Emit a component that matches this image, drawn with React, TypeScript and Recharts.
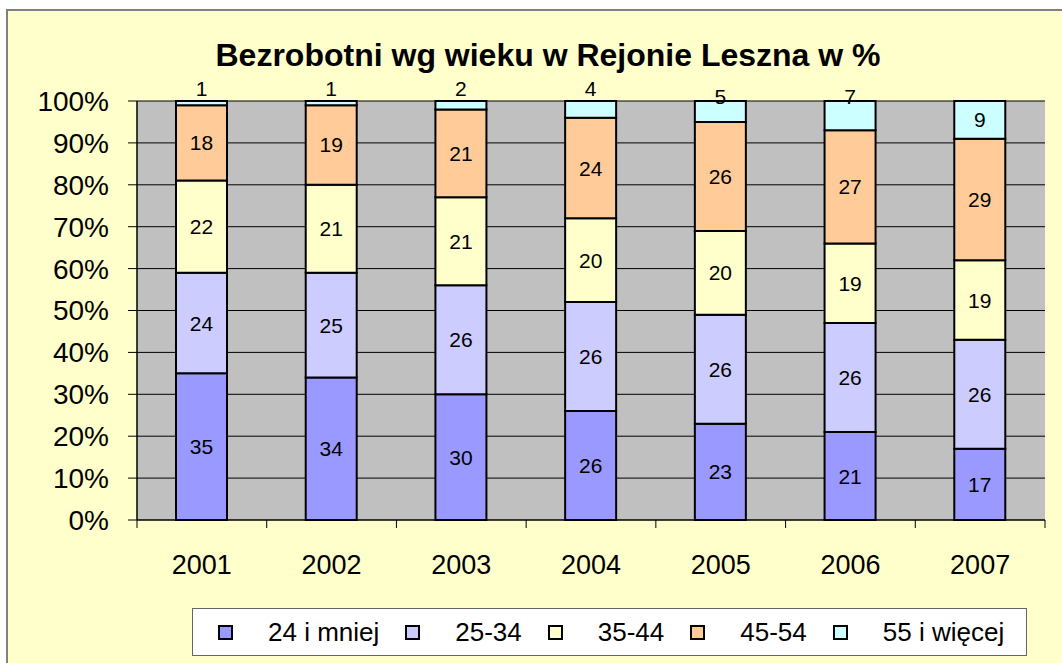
import { BarChart, Bar, XAxis, YAxis, CartesianGrid, Legend, LabelList } from 'recharts'

const years = ['2001', '2002', '2003', '2004', '2005', '2006', '2007']
const age24 = [35, 34, 30, 26, 23, 21, 17]
const age25to34 = [24, 25, 26, 26, 26, 26, 26]
const age35to44 = [22, 21, 21, 20, 20, 19, 19]
const age45to54 = [18, 19, 21, 24, 26, 27, 29]
const age55 = [1, 1, 2, 4, 5, 7, 9]
const yTicks = [0, 10, 20, 30, 40, 50, 60, 70, 80, 90, 100]

const seriesKeys = ['a24', 'a25', 'a35', 'a45', 'a55']
const seriesNames = ['24 i mniej', '25-34', '35-44', '45-54', '55 i więcej']
const seriesColors = ['#9999FF', '#CCCCFF', '#FFFFCC', '#FFCC99', '#CCFFFF']

const chartData = years.map((year, i) => ({
  year,
  a24: age24[i],
  a25: age25to34[i],
  a35: age35to44[i],
  a45: age45to54[i],
  a55: age55[i],
}))

const CHART_W = 1054
const CHART_H = 652
const MARGIN = { top: 90, right: 17, bottom: 83, left: 0 }
const Y_AXIS_W = 129
const BAND = (CHART_W - MARGIN.left - MARGIN.right - Y_AXIS_W) / years.length
const FONT = "Arial, 'Liberation Sans', sans-serif"

// Year labels with tick marks between categories (Excel style)
const YearTick = (props: any) => {
  const { x, y, payload, index } = props
  const half = BAND / 2
  return (
    <g>
      <line x1={x - half} y1={y} x2={x - half} y2={y + 8} stroke="#000" strokeWidth={1} />
      {index === years.length - 1 && (
        <line x1={x + half} y1={y} x2={x + half} y2={y + 8} stroke="#000" strokeWidth={1} />
      )}
      <text x={x} y={y + 54} textAnchor="middle" fontSize={27} fill="#000" fontFamily={FONT}>
        {payload.value}
      </text>
    </g>
  )
}

const SegmentLabel = (props: any) => {
  const { x, y, width, height, value } = props
  return (
    <text
      x={x + width / 2}
      y={y + height / 2}
      textAnchor="middle"
      dominantBaseline="central"
      fontSize={21}
      fill="#000"
      fontFamily={FONT}
    >
      {value}
    </text>
  )
}

// small top segments get their label pushed above the bar
const TopLabel = (props: any) => {
  const { x, y, width, height, value } = props
  let cy = y + height / 2
  if (height < 18) cy = y - 13
  else if (height < 35) cy = y - 5
  return (
    <text
      x={x + width / 2}
      y={cy}
      textAnchor="middle"
      dominantBaseline="central"
      fontSize={21}
      fill="#000"
      fontFamily={FONT}
    >
      {value}
    </text>
  )
}

const LegendBox = () => (
  <div
    style={{
      width: '100%',
      height: '100%',
      boxSizing: 'border-box',
      background: '#fff',
      border: '1px solid #666',
      display: 'flex',
      alignItems: 'center',
      paddingLeft: 25,
      fontFamily: FONT,
      fontSize: 26,
      color: '#000',
      whiteSpace: 'nowrap',
    }}
  >
    {seriesNames.map((name, i) => (
      <div key={name} style={{ display: 'flex', alignItems: 'center', marginRight: 26, flexShrink: 0 }}>
        <span
          style={{
            width: 11,
            height: 11,
            border: '2px solid #000',
            background: seriesColors[i],
            marginRight: 35,
            display: 'inline-block',
          }}
        />
        <span>{name}</span>
      </div>
    ))}
  </div>
)

export default function App() {
  return (
    <div
      style={{
        position: 'fixed',
        left: 6,
        top: 9,
        width: CHART_W,
        height: CHART_H,
        background: '#FFFFCC',
        borderLeft: '2px solid #808080',
        borderTop: '2px solid #808080',
        overflow: 'hidden',
        fontFamily: FONT,
      }}
    >
      <div
        style={{
          position: 'absolute',
          left: 0,
          top: 29,
          width: 1080,
          textAlign: 'center',
          fontWeight: 'bold',
          fontSize: 32,
          lineHeight: '31px',
          color: '#000',
        }}
      >
        Bezrobotni wg wieku w Rejonie Leszna w %
      </div>
      <BarChart width={CHART_W} height={CHART_H} data={chartData} margin={MARGIN} barSize={51}>
        <CartesianGrid vertical={false} stroke="#000" fill="#C0C0C0" fillOpacity={1} />
        <XAxis
          dataKey="year"
          height={60}
          axisLine={{ stroke: '#000', strokeWidth: 1 }}
          tickLine={false}
          tickSize={0}
          tickMargin={0}
          tick={<YearTick />}
          interval={0}
        />
        <XAxis
          xAxisId="top"
          dataKey="year"
          orientation="top"
          height={0}
          tick={false}
          tickLine={false}
          axisLine={{ stroke: '#808080', strokeWidth: 2 }}
        />
        <YAxis
          type="number"
          domain={[0, 100]}
          ticks={yTicks}
          width={Y_AXIS_W}
          tickFormatter={(v: number) => `${v}%`}
          tick={{ fontSize: 28, fill: '#000', fontFamily: FONT }}
          tickSize={9}
          tickMargin={19}
          tickLine={{ stroke: '#000' }}
          axisLine={{ stroke: '#000', strokeWidth: 1.5 }}
          interval={0}
        />
        <YAxis
          yAxisId="right"
          orientation="right"
          type="number"
          domain={[0, 100]}
          width={0}
          tick={false}
          tickLine={false}
          axisLine={{ stroke: '#808080', strokeWidth: 2 }}
        />
        <Legend
          layout="vertical"
          verticalAlign="middle"
          align="center"
          wrapperStyle={{ left: 184, top: 597, width: 835, height: 48 }}
          content={() => <LegendBox />}
        />
        {seriesKeys.map((key, i) => (
          <Bar
            key={key}
            dataKey={key}
            name={seriesNames[i]}
            stackId="s"
            fill={seriesColors[i]}
            stroke="#000"
            strokeWidth={2}
            isAnimationActive={false}
          >
            <LabelList dataKey={key} content={i === seriesKeys.length - 1 ? <TopLabel /> : <SegmentLabel />} />
          </Bar>
        ))}
      </BarChart>
    </div>
  )
}
